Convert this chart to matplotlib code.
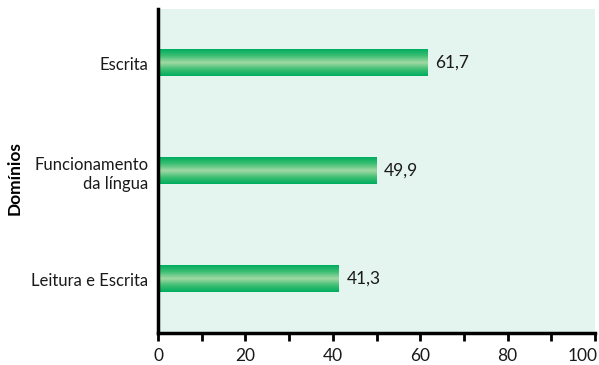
import numpy as np
import matplotlib
matplotlib.use("Agg")
import matplotlib.pyplot as plt
import matplotlib.transforms as mtransforms
from matplotlib.colors import LinearSegmentedColormap

categories = ["Leitura e Escrita", "Funcionamento\nda língua", "Escrita"]
values = [41.3, 49.9, 61.7]
value_labels = ["41,3", "49,9", "61,7"]
xticks = [0, 20, 40, 60, 80, 100]

plt.rcParams['font.family'] = ['Lato', 'DejaVu Sans']

fig = plt.figure(figsize=(5.99, 3.65), dpi=100)
ax = fig.add_axes([158/599, (365-333)/365, (595-158)/599, (333-9)/365])
ax.set_facecolor('#e4f4ee')

cmap = LinearSegmentedColormap.from_list('g', ['#00ad5f', '#3fbf74', '#a3d9a5', '#3fbf74', '#00ad5f'])
grad = np.linspace(0, 1, 64).reshape(-1, 1)
h = 0.245
for i, v in enumerate(values):
    ax.imshow(grad, cmap=cmap, aspect='auto', extent=[0, v, i - h/2, i + h/2],
              origin='lower', zorder=2, interpolation='bilinear')
    ax.text(v + 1.8, i, value_labels[i], va='center', ha='left', fontsize=12.5, color='#1a1a1a')

ax.set_xlim(0, 100)
ax.set_ylim(-0.5, 2.5)
ax.set_yticks(range(len(categories)))
ax.set_yticklabels(categories, fontsize=12, color='#1a1a1a', ha='right', multialignment='right',
                   linespacing=1.3)
ax.tick_params(axis='y', length=0, pad=7)
ax.set_xticks(xticks)
ax.set_xticks(np.arange(10, 100, 20), minor=True)
ax.set_xticklabels([str(t) for t in xticks], fontsize=12.5, color='#1a1a1a')
ax.tick_params(axis='x', which='both', direction='out', length=6, width=2, color='black', pad=5)
last = ax.get_xticklabels()[-1]
last.set_ha('right')
last.set_transform(last.get_transform() + mtransforms.ScaledTranslation(3/100, 0, fig.dpi_scale_trans))
for s in ['top', 'right']:
    ax.spines[s].set_visible(False)
ax.spines['left'].set_linewidth(2.5)
ax.spines['bottom'].set_linewidth(2.5)
ax.set_ylabel('Domínios', fontsize=12.5, fontweight='bold')
ax.yaxis.set_label_coords(-0.31, 0.478)

fig.savefig('out.png', dpi=100, facecolor='white')
